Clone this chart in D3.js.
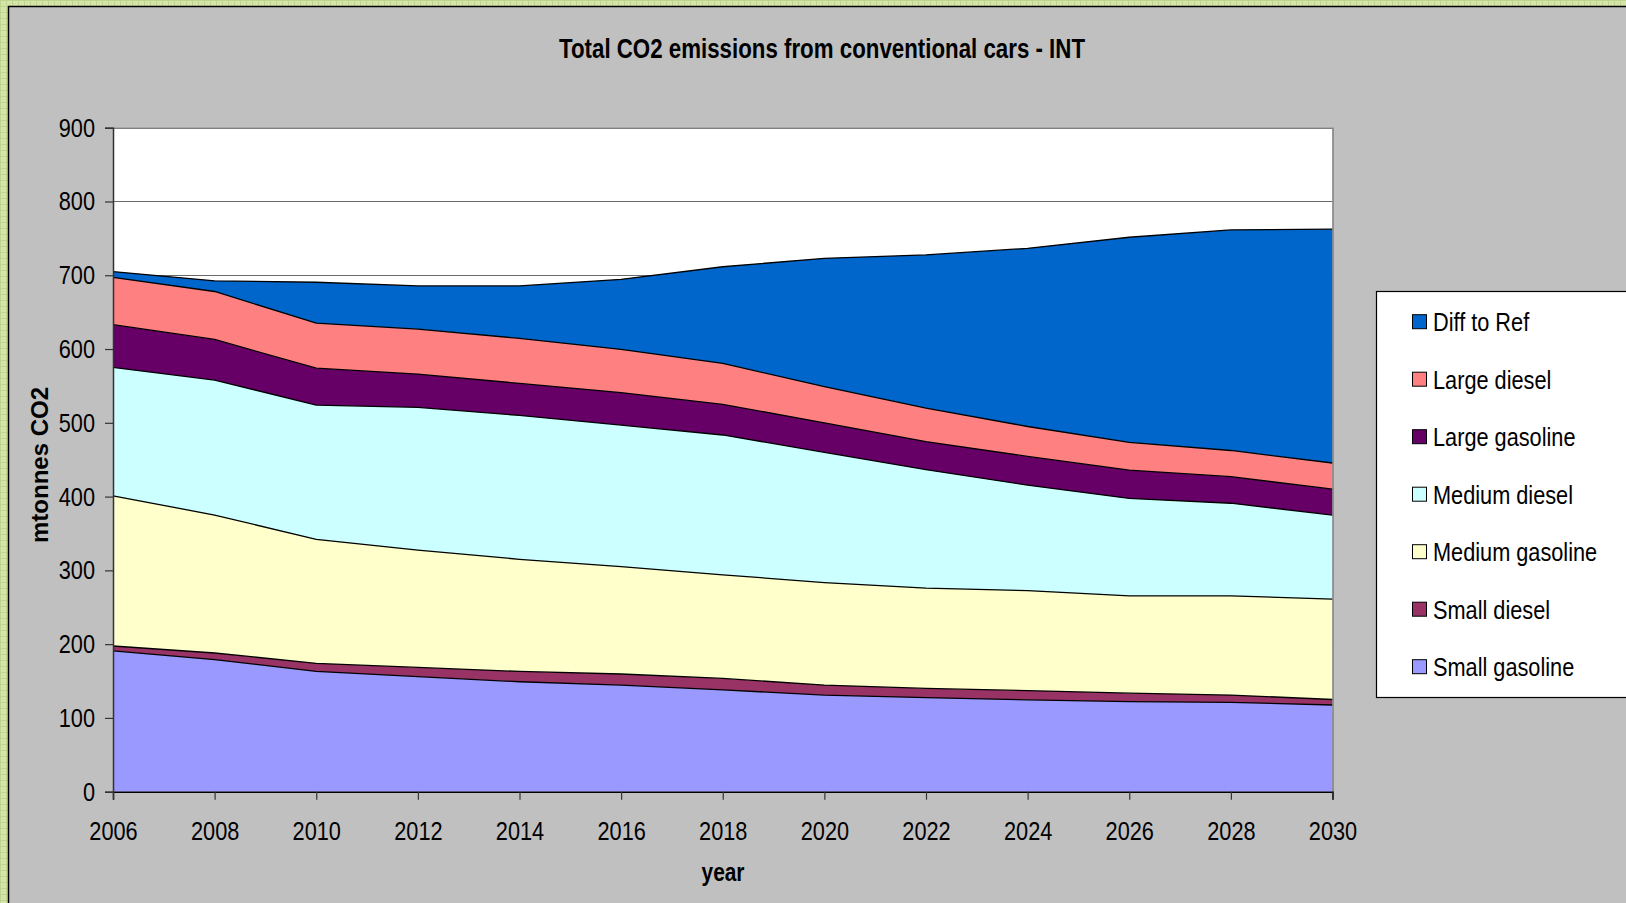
<!DOCTYPE html>
<html><head><meta charset="utf-8">
<script src="https://cdn.jsdelivr.net/npm/d3@7"></script>
<style>
html,body{margin:0;padding:0;overflow:hidden;background:#d6e6a6;}
svg{display:block;}
</style></head><body>
<svg id="chart" width="1626" height="903"></svg>
<script>
// ---------- data ----------
const years = [2006,2008,2010,2012,2014,2016,2018,2020,2022,2024,2026,2028,2030];
const smallGasoline  = [191,179,163,156,149,144.5,138,131,127.5,124.5,122,121,117.5];
const smallDiesel    = [6.5,9,11,12.5,14,15,15.5,13.5,12.5,12.5,11.5,10,7.5];
const mediumGasoline = [203.5,187,168,159,152,145.5,140.5,139,136,135.5,132,134.5,136];
const mediumDiesel   = [174,183,182,193.5,195,192,189.5,176.5,160.5,143,132,125.5,114];
const largeGasoline  = [58,55,50,45,43.5,44,41.5,40,38,39,38.5,36,35];
const largeDiesel    = [64,65,61,61,61,58.5,55.5,49,45.5,40.5,37.5,35.5,35.5];
const diffToRef      = [8,14.5,55.5,58.5,71,95,131,174,207.5,241.5,278,299,317];
const seriesNames  = ["Small gasoline","Small diesel","Medium gasoline","Medium diesel","Large gasoline","Large diesel","Diff to Ref"];
const seriesValues = [smallGasoline,smallDiesel,mediumGasoline,mediumDiesel,largeGasoline,largeDiesel,diffToRef];
const seriesColors = ["#9999FF","#993366","#FFFFCC","#CCFFFF","#660066","#FF8080","#0066CC"];
const yTicks = [0,100,200,300,400,500,600,700,800,900];
const xTicks = years;
const chartTitle = "Total CO2 emissions from conventional cars - INT";
const xTitle = "year";
const yTitle = "mtonnes CO2";

// ---------- layout ----------
const W = 1626, H = 903;
const P = {left:113, right:1332.5, top:127.7, bottom:791.7};
const FONT = "'Liberation Sans',Arial,sans-serif";
const SX = 0.82; // horizontal condensing of the narrow face

const svg = d3.select("#chart");
const defs = svg.append("defs");
const pat = defs.append("pattern").attr("id","tex").attr("width",6).attr("height",6).attr("patternUnits","userSpaceOnUse");
pat.append("rect").attr("width",6).attr("height",6).attr("fill","#d6e6a8");
pat.append("rect").attr("width",6).attr("height",1).attr("fill","#bfd48e");
pat.append("rect").attr("width",1).attr("height",6).attr("fill","#bfd48e");
pat.append("rect").attr("x",3).attr("y",3).attr("width",1).attr("height",1).attr("fill","#c8da98");
svg.append("rect").attr("width",W).attr("height",H).attr("fill","url(#tex)");

// grey chart panel
svg.append("rect").attr("x",8.5).attr("y",6.5).attr("width",W).attr("height",H)
  .attr("fill","#C0C0C0").attr("stroke","#000").attr("stroke-width",1.5);

const x = d3.scaleLinear().domain([2006,2030]).range([P.left,P.right]);
const y = d3.scaleLinear().domain([0,900]).range([P.bottom,P.top]);

// plot area
svg.append("rect").attr("x",P.left).attr("y",P.top).attr("width",P.right-P.left).attr("height",P.bottom-P.top)
  .attr("fill","#fff");

// gridlines
svg.append("g").selectAll("line").data(yTicks.filter(d=>d>0)).join("line")
  .attr("x1",P.left).attr("x2",P.right)
  .attr("y1",d=>Math.round(y(d))+0.5).attr("y2",d=>Math.round(y(d))+0.5)
  .attr("stroke","#6a6a6a").attr("stroke-width",1);

// stacked data
const rows = years.map((yr,i)=>{const r={year:yr}; seriesNames.forEach((n,k)=>r[n]=seriesValues[k][i]); return r;});
const stack = d3.stack().keys(seriesNames)(rows);
const area = d3.area().x(d=>x(d.data.year)).y0(d=>y(d[0])).y1(d=>y(d[1]));
const topLine = d3.line().x(d=>x(d.data.year)).y(d=>y(d[1]));

const gA = svg.append("g");
gA.selectAll("path.a").data(stack).join("path").attr("class","a")
  .attr("d",area).attr("fill",(d,i)=>seriesColors[i]).attr("stroke","none");
gA.selectAll("path.l").data(stack).join("path").attr("class","l")
  .attr("d",topLine).attr("fill","none").attr("stroke","#000").attr("stroke-width",1.3);

// plot border (top/right grey)
svg.append("path").attr("d",`M${P.left},${P.top+0.5}H${P.right+0.5}V${P.bottom}`)
  .attr("fill","none").attr("stroke","#808080").attr("stroke-width",1.5);

// axes
const xAxis = d3.axisBottom(x).tickValues(xTicks).tickFormat(d3.format("d")).tickSize(8).tickPadding(21);
const gx = svg.append("g").attr("transform",`translate(0,${P.bottom})`).call(xAxis);
gx.select(".domain").attr("stroke","#000").attr("stroke-width",1.5);
gx.selectAll(".tick line").attr("stroke","#333").attr("stroke-width",1.2);
gx.selectAll("text").attr("font-family",FONT).attr("font-size",26.5).attr("fill","#000")
  .attr("transform",`scale(${SX},1)`);

const yAxis = d3.axisLeft(y).tickValues(yTicks).tickSize(8).tickPadding(10);
const gy = svg.append("g").attr("transform",`translate(${P.left},0)`).call(yAxis);
gy.select(".domain").attr("stroke","#333").attr("stroke-width",1.5);
gy.selectAll(".tick line").attr("stroke","#333").attr("stroke-width",1.2);
gy.selectAll("text").attr("font-family",FONT).attr("font-size",26.5).attr("fill","#000")
  .attr("x",-18/SX).attr("transform",`scale(${SX},1)`);

// helper for condensed text
function ctext(g, tx, ty, str, size, weight, anchor){
  return g.append("text").attr("transform",`translate(${tx},${ty}) scale(${SX},1)`)
    .attr("text-anchor",anchor||"start").attr("font-family",FONT)
    .attr("font-weight",weight||"normal").attr("font-size",size).text(str);
}

// titles
ctext(svg, 822, 58, chartTitle, 27.2, "bold", "middle");
ctext(svg, 723, 881, xTitle, 25.5, "bold", "middle");
svg.append("text").attr("transform","translate(48,465) rotate(-90)").attr("text-anchor","middle")
  .attr("font-family",FONT).attr("font-weight","bold").attr("font-size",24).text(yTitle);

// legend
const lg = svg.append("g");
lg.append("rect").attr("x",1376.5).attr("y",291.5).attr("width",400).attr("height",406)
  .attr("fill","#fff").attr("stroke","#000").attr("stroke-width",1.2);
const legendOrder = seriesNames.map((n,i)=>i).reverse();
const ly = d3.scalePoint().domain(legendOrder).range([321.7,666.7]);
legendOrder.forEach(i=>{
  const g = lg.append("g").attr("transform",`translate(0,${ly(i)})`);
  g.append("rect").attr("x",1412.5).attr("y",-7).attr("width",14).attr("height",14)
    .attr("fill",seriesColors[i]).attr("stroke","#000").attr("stroke-width",1);
  ctext(g, 1433, 9.5, seriesNames[i], 26.5, "normal", "start");
});
</script>
</body></html>
